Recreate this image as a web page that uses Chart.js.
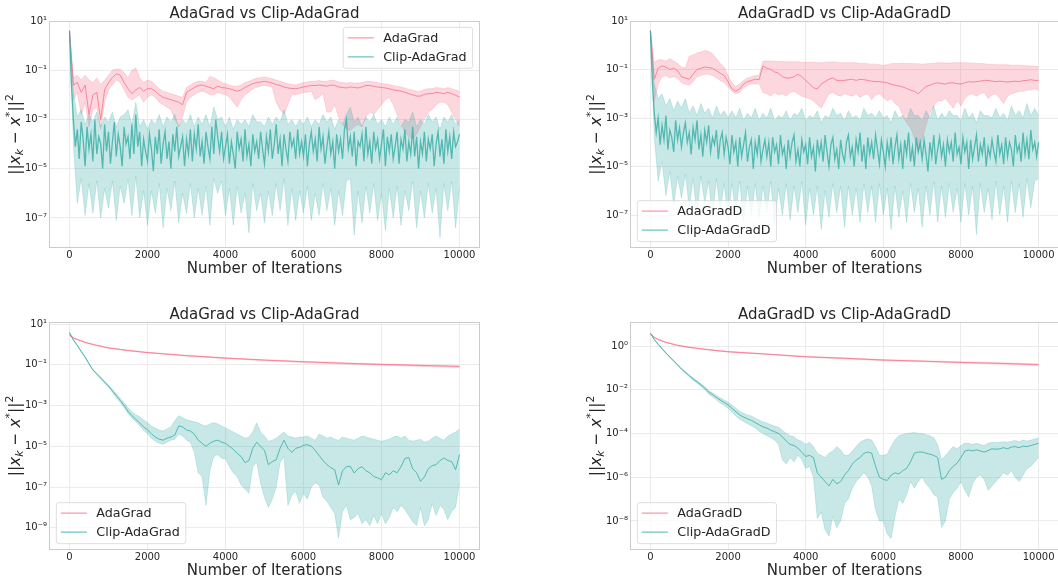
<!DOCTYPE html>
<html>
<head>
<meta charset="utf-8">
<script src="https://cdn.jsdelivr.net/npm/chart.js@4.4.1/dist/chart.umd.min.js"></script>
<style>
  body { margin: 0; background: #fff; }
  #page { position: relative; width: 1058px; height: 579px; overflow: hidden; }
  #page canvas { position: absolute; }
</style>
</head>
<body>
<div id="page">
  <canvas id="tl" width="529" height="290" style="left:0;top:0"></canvas>
  <canvas id="tr" width="529" height="290" style="left:529px;top:0"></canvas>
  <canvas id="bl" width="529" height="289" style="left:0;top:290px"></canvas>
  <canvas id="br" width="529" height="289" style="left:529px;top:290px"></canvas>
</div>
<script>
// iteration numbers, one sample every 100 iterations
const iters = [
  0, 100, 200, 300, 400, 500, 600, 700, 800, 900,
  1000, 1100, 1200, 1300, 1400, 1500, 1600, 1700, 1800, 1900,
  2000, 2100, 2200, 2300, 2400, 2500, 2600, 2700, 2800, 2900,
  3000, 3100, 3200, 3300, 3400, 3500, 3600, 3700, 3800, 3900,
  4000, 4100, 4200, 4300, 4400, 4500, 4600, 4700, 4800, 4900,
  5000, 5100, 5200, 5300, 5400, 5500, 5600, 5700, 5800, 5900,
  6000, 6100, 6200, 6300, 6400, 6500, 6600, 6700, 6800, 6900,
  7000, 7100, 7200, 7300, 7400, 7500, 7600, 7700, 7800, 7900,
  8000, 8100, 8200, 8300, 8400, 8500, 8600, 8700, 8800, 8900,
  9000, 9100, 9200, 9300, 9400, 9500, 9600, 9700, 9800, 9900, 10000
];
// finer sampling (every 50 iterations) for the very noisy Clip means of the top row
const fineIters = [
  0, 50, 100, 150, 200, 250, 300, 350, 400, 450, 500, 550, 600, 650, 700, 750, 800, 850, 900, 950,
  1000, 1050, 1100, 1150, 1200, 1250, 1300, 1350, 1400, 1450, 1500, 1550, 1600, 1650, 1700, 1750, 1800, 1850, 1900, 1950,
  2000, 2050, 2100, 2150, 2200, 2250, 2300, 2350, 2400, 2450, 2500, 2550, 2600, 2650, 2700, 2750, 2800, 2850, 2900, 2950,
  3000, 3050, 3100, 3150, 3200, 3250, 3300, 3350, 3400, 3450, 3500, 3550, 3600, 3650, 3700, 3750, 3800, 3850, 3900, 3950,
  4000, 4050, 4100, 4150, 4200, 4250, 4300, 4350, 4400, 4450, 4500, 4550, 4600, 4650, 4700, 4750, 4800, 4850, 4900, 4950,
  5000, 5050, 5100, 5150, 5200, 5250, 5300, 5350, 5400, 5450, 5500, 5550, 5600, 5650, 5700, 5750, 5800, 5850, 5900, 5950,
  6000, 6050, 6100, 6150, 6200, 6250, 6300, 6350, 6400, 6450, 6500, 6550, 6600, 6650, 6700, 6750, 6800, 6850, 6900, 6950,
  7000, 7050, 7100, 7150, 7200, 7250, 7300, 7350, 7400, 7450, 7500, 7550, 7600, 7650, 7700, 7750, 7800, 7850, 7900, 7950,
  8000, 8050, 8100, 8150, 8200, 8250, 8300, 8350, 8400, 8450, 8500, 8550, 8600, 8650, 8700, 8750, 8800, 8850, 8900, 8950,
  9000, 9050, 9100, 9150, 9200, 9250, 9300, 9350, 9400, 9450, 9500, 9550, 9600, 9650, 9700, 9750, 9800, 9850, 9900, 9950,
  10000
];
// fewer samples for the smooth AdaGrad curves of the lower row
const smoothIters = [0, 100, 200, 400, 700, 1000, 1500, 2000, 3000, 4000, 5000, 6000, 7000, 8000, 9000, 10000];

const xTicks = [0, 2000, 4000, 6000, 8000, 10000];
// y ticks as powers of ten
const topTicks = [1, -1, -3, -5, -7];
const blTicks = [1, -1, -3, -5, -7, -9];
const brTicks = [0, -2, -4, -6, -8];

// all series below are log10(||x_k - x*||^2): mean, lower and upper edge of the band

// === top left: AdaGrad vs Clip-AdaGrad ===
const tlAdaMean = [
  0.6, -1.6, -1.5, -1.9, -1.6, -2.8, -2.0, -1.9, -3.0, -1.8,
  -1.5, -1.3, -1.15, -1.2, -1.5, -1.75, -1.95, -1.8, -1.7, -1.85,
  -1.75, -1.75, -1.85, -2.0, -2.1, -2.15, -2.2, -2.25, -2.3, -2.4,
  -1.9, -1.8, -1.7, -1.62, -1.6, -1.65, -1.7, -1.75, -1.65, -1.7,
  -1.72, -1.75, -1.8, -1.85, -1.8, -1.7, -1.62, -1.55, -1.5, -1.48,
  -1.45, -1.48, -1.52, -1.58, -1.62, -1.68, -1.72, -1.74, -1.75, -1.72,
  -1.68, -1.65, -1.62, -1.62, -1.6, -1.62, -1.65, -1.6, -1.62, -1.68,
  -1.7, -1.72, -1.68, -1.7, -1.72, -1.68, -1.62, -1.62, -1.65, -1.68,
  -1.7, -1.72, -1.75, -1.8, -1.82, -1.85, -1.9, -1.95, -2.0, -2.05,
  -2.05, -1.98, -1.95, -1.95, -1.9, -1.92, -1.95, -1.9, -1.95, -2.02, -2.08
];
const tlAdaLo = [
  0.58, -2.2, -1.9, -2.8, -2.3, -3.3, -2.6, -2.5, -3.4, -2.3,
  -1.8, -1.6, -1.4, -1.5, -1.8, -2.1, -2.2, -2.1, -2.0, -2.3,
  -2.1, -2.0, -2.1, -2.3, -2.4, -2.5, -2.6, -3.0, -3.3, -2.9,
  -2.3, -2.1, -2.0, -1.9, -1.85, -1.9, -2.0, -2.0, -1.9, -1.95,
  -2.0, -2.1, -2.3, -2.5, -2.2, -2.0, -1.9, -1.75, -1.7, -1.65,
  -1.62, -1.65, -1.7, -2.3, -2.6, -2.8, -2.4, -2.0, -2.0, -1.95,
  -1.9, -1.9, -1.85, -2.2, -2.1, -1.95, -2.7, -2.7, -2.4, -2.9,
  -3.2, -3.4, -3.45, -3.3, -3.2, -3.3, -2.9, -2.7, -2.8, -2.6,
  -2.4, -2.2, -2.1, -2.4, -2.8, -3.2, -3.5, -3.7, -3.8, -3.6,
  -3.3, -3.0, -2.7, -2.6, -2.4, -2.3, -2.3, -2.4, -2.7, -3.0, -3.3
];
const tlAdaHi = [
  0.62, -1.3, -1.2, -1.4, -1.2, -1.4, -1.5, -1.3, -1.6, -1.4,
  -1.2, -1.0, -0.95, -0.95, -1.1, -1.3, -1.0, -0.9, -1.3, -1.5,
  -1.4, -1.45, -1.6, -1.75, -1.85, -1.9, -1.95, -2.0, -2.05, -2.1,
  -1.7, -1.6, -1.5, -1.45, -1.45, -1.5, -1.25, -1.3, -1.4, -1.5,
  -1.55, -1.6, -1.65, -1.65, -1.6, -1.5, -1.45, -1.38, -1.32, -1.3,
  -1.28, -1.3, -1.35, -1.4, -1.45, -1.5, -1.55, -1.58, -1.6, -1.55,
  -1.5, -1.48, -1.45, -1.45, -1.42, -1.45, -1.45, -1.4, -1.42, -1.48,
  -1.5, -1.52, -1.5, -1.52, -1.52, -1.5, -1.45, -1.45, -1.48, -1.5,
  -1.55, -1.55, -1.58, -1.62, -1.65, -1.68, -1.72, -1.78, -1.8, -1.85,
  -1.85, -1.78, -1.75, -1.75, -1.7, -1.72, -1.75, -1.7, -1.75, -1.8, -1.85
];
// sampled on fineIters
const tlClipMean = [
  0.6, -1.6, -3.0, -4.1, -3.4, -4.6, -3.1, -3.8, -4.9, -3.3, -4.2, -3.6, -4.7, -3.0, -4.4, -3.7, -4.0, -5.0, -3.2, -4.3,
  -3.5, -4.8, -3.9, -3.1, -4.5, -3.6, -4.1, -4.9, -3.3, -4.0, -3.7, -4.6, -3.2, -4.4, -2.8, -4.1, -3.5, -4.9, -3.8, -4.3,
  -4.7, -3.6, -4.2, -5.1, -3.7, -4.4, -3.4, -4.8, -4.0, -3.5, -4.6, -3.9, -5.0, -3.6, -4.3, -3.3, -4.5, -4.1, -3.7, -4.9,
  -3.8, -4.4, -3.4, -4.7, -3.6, -4.2, -3.2, -4.5, -3.9, -4.8, -3.5, -4.1, -4.6, -3.3, -4.4, -3.0, -3.7, -4.3, -3.5, -4.6,
  -4.1, -3.6, -4.8, -3.9, -4.4, -5.0, -3.5, -4.2, -3.8, -4.7, -3.4, -4.5, -4.0, -4.9, -3.6, -4.3, -3.9, -4.6, -3.5, -4.2,
  -4.8, -3.7, -4.3, -3.4, -4.6, -4.0, -3.2, -4.4, -3.8, -4.9, -3.6, -4.2, -4.7, -3.5, -4.1, -3.8, -4.6, -3.4, -4.4, -3.9,
  -4.5, -3.6, -4.9, -4.0, -3.5, -4.3, -3.8, -4.7, -3.3, -4.2, -3.7, -4.8, -4.1, -3.5, -4.4, -3.9, -5.0, -3.6, -4.3, -3.8,
  -4.6, -3.4, -3.0, -4.2, -3.7, -4.5, -3.5, -4.9, -3.9, -4.1, -3.6, -4.7, -3.3, -4.4, -3.9, -4.8, -3.5, -4.2, -3.8, -4.6,
  -4.0, -3.4, -4.9, -3.7, -4.3, -3.6, -4.6, -4.1, -3.5, -4.8, -3.8, -4.2, -3.4, -4.7, -3.9, -4.4, -3.3, -4.5, -3.7, -5.0,
  -3.9, -4.4, -3.5, -4.7, -3.8, -4.2, -3.6, -4.9, -4.0, -3.5, -4.5, -3.8, -4.8, -3.4, -4.3, -3.7, -4.6, -3.5, -4.1, -3.9,
  -3.6
];
const tlClipLo = [
  0.58, -4.0, -6.4, -5.4, -6.9, -5.6, -6.8, -5.5, -7.0, -5.8,
  -6.6, -5.5, -7.1, -5.7, -6.4, -5.4, -6.9, -5.3, -7.0, -5.9,
  -7.3, -5.9, -6.8, -5.6, -7.4, -5.8, -6.7, -5.5, -7.2, -6.0,
  -6.8, -5.6, -7.0, -5.8, -6.9, -5.7, -7.3, -5.4, -6.0, -5.5,
  -6.9, -5.8, -7.3, -5.7, -6.8, -6.0, -7.6, -5.6, -6.7, -6.0,
  -7.2, -5.9, -6.9, -5.6, -6.7, -5.4, -7.3, -5.8, -7.1, -5.9,
  -6.8, -5.7, -7.1, -6.0, -6.9, -5.6, -6.7, -5.8, -7.3, -5.9,
  -6.9, -5.5, -5.4, -7.7, -5.9, -7.2, -5.7, -6.8, -5.6, -7.1,
  -6.0, -7.5, -5.8, -7.0, -5.7, -7.3, -5.9, -6.7, -5.5, -7.4,
  -5.9, -7.0, -5.6, -6.8, -5.8, -7.8, -5.6, -6.7, -5.5, -7.4, -5.8
];
const tlClipHi = [
  0.62, -1.9, -2.9, -2.6, -3.2, -2.8, -3.1, -2.7, -3.3, -2.9,
  -3.1, -2.7, -3.3, -2.9, -2.8, -2.6, -3.2, -2.3, -3.3, -3.0,
  -3.4, -3.0, -3.2, -2.8, -3.3, -2.9, -3.1, -2.8, -3.3, -3.0,
  -3.2, -2.8, -3.3, -2.9, -3.2, -2.8, -3.3, -2.5, -3.0, -2.9,
  -3.3, -2.9, -3.4, -3.0, -3.2, -3.0, -3.3, -2.8, -3.1, -3.1,
  -3.3, -2.9, -3.2, -2.9, -3.1, -2.6, -3.2, -3.0, -3.3, -3.0,
  -3.2, -2.9, -3.3, -3.0, -3.2, -2.8, -3.1, -2.9, -3.4, -3.0,
  -3.2, -2.8, -2.5, -3.1, -2.9, -3.3, -2.9, -3.1, -2.8, -3.2,
  -3.0, -3.3, -2.9, -3.2, -2.9, -3.3, -3.0, -3.1, -2.7, -3.3,
  -3.0, -3.2, -2.8, -3.1, -2.9, -3.4, -2.9, -3.1, -2.8, -3.2, -3.0
];

// === top right: AdaGradD vs Clip-AdaGradD ===
const trAdaMean = [
  0.6, -1.4, -0.95, -0.85, -0.9, -1.0, -0.95, -1.05, -1.3, -1.35,
  -1.4, -1.2, -1.0, -0.95, -0.9, -0.92, -0.95, -1.05, -1.15, -1.25,
  -1.5, -1.8, -1.9, -1.8, -1.6, -1.5, -1.45, -1.4, -1.42, -0.85,
  -0.95, -1.0, -1.1, -1.15, -1.3, -1.35, -1.35, -1.3, -1.2, -1.3,
  -1.45, -1.6, -1.75, -1.8, -1.6, -1.5, -1.4, -1.35, -1.45, -1.45,
  -1.45, -1.42, -1.4, -1.45, -1.4, -1.42, -1.45, -1.48, -1.5, -1.5,
  -1.52, -1.55, -1.6, -1.65, -1.68, -1.72, -1.78, -1.85, -1.9, -2.0,
  -1.85, -1.7, -1.65, -1.58, -1.55, -1.58, -1.6, -1.55, -1.55, -1.58,
  -1.6, -1.55, -1.5, -1.52, -1.5, -1.48, -1.45, -1.45, -1.48, -1.5,
  -1.48, -1.5, -1.52, -1.5, -1.48, -1.5, -1.46, -1.45, -1.42, -1.45, -1.45
];
const trAdaLo = [
  0.58, -2.3, -1.6, -1.3, -1.25, -1.35, -1.3, -1.35, -1.55, -1.6,
  -1.65, -1.5, -1.3, -1.25, -1.2, -1.2, -1.25, -1.35, -1.45, -1.55,
  -1.7, -1.9, -2.0, -1.95, -1.75, -1.65, -1.6, -1.6, -1.6, -1.95,
  -2.0, -2.1, -1.95, -2.05, -2.0, -2.1, -1.95, -1.9, -2.0, -2.1,
  -2.15, -2.2, -2.3, -2.45, -2.6, -2.3, -2.0, -1.95, -2.05, -2.1,
  -2.0, -2.05, -2.1, -2.0, -2.15, -2.05, -2.0, -2.25, -2.05, -2.0,
  -2.15, -2.3, -2.2, -2.4, -2.5, -2.9, -3.2, -3.4, -3.8, -4.4,
  -3.9, -3.3, -2.8, -2.5, -2.3, -2.3, -2.2, -2.4, -2.6, -2.3,
  -2.5, -2.2, -2.05, -2.0, -2.1, -2.0, -1.95, -2.2, -2.05, -2.0,
  -2.2, -2.4, -2.1, -2.0, -1.95, -1.9, -1.9, -1.85, -1.85, -1.8, -1.85
];
const trAdaHi = [
  0.62, -0.7, -0.6, -0.6, -0.65, -0.55, -0.65, -0.75, -0.9, -0.95,
  -0.45, -0.4, -0.32, -0.28, -0.22, -0.25, -0.35, -0.55, -0.75, -0.9,
  -1.25, -1.55, -1.7, -1.6, -1.45, -1.35, -1.3, -1.25, -1.25, -0.65,
  -0.65, -0.65, -0.66, -0.67, -0.67, -0.68, -0.68, -0.68, -0.68, -0.7,
  -0.7, -0.7, -0.7, -0.72, -0.72, -0.7, -0.7, -0.68, -0.7, -0.72,
  -0.72, -0.72, -0.72, -0.72, -0.75, -0.75, -0.76, -0.78, -0.78, -0.8,
  -0.82, -0.8, -0.76, -0.75, -0.75, -0.74, -0.75, -0.75, -0.76, -0.76,
  -0.78, -0.76, -0.75, -0.74, -0.72, -0.72, -0.73, -0.73, -0.72, -0.72,
  -0.72, -0.72, -0.73, -0.74, -0.75, -0.75, -0.76, -0.78, -0.78, -0.8,
  -0.8, -0.8, -0.8, -0.82, -0.82, -0.82, -0.84, -0.85, -0.86, -0.87, -0.88
];
// sampled on fineIters
const trClipMean = [
  0.6, -1.5, -2.8, -3.6, -3.0, -4.1, -3.3, -3.9, -2.9, -4.3, -3.5, -3.8, -4.4, -3.1, -3.9, -3.4, -4.2, -3.6, -3.2, -4.0,
  -3.6, -4.5, -3.4, -3.9, -3.1, -4.3, -3.7, -4.6, -3.5, -4.0, -3.3, -4.4, -3.8, -4.1, -3.5, -4.7, -3.9, -3.6, -4.5, -3.8,
  -4.2, -4.9, -3.7, -4.4, -4.0, -5.0, -3.8, -4.6, -4.1, -3.6, -4.8, -4.2, -3.9, -5.1, -4.0, -4.5, -3.7, -4.8, -4.3, -3.9,
  -4.6, -4.0, -5.0, -3.8, -4.4, -4.1, -4.9, -3.7, -4.5, -4.2, -5.1, -3.9, -4.6, -4.0, -3.7, -4.8, -4.3, -5.0, -3.9, -4.4,
  -4.1, -4.9, -3.8, -4.6, -4.2, -5.2, -3.9, -4.5, -4.0, -4.8, -3.7, -4.4, -5.0, -4.1, -3.8, -4.7, -4.3, -5.1, -3.9, -4.5,
  -4.8, -4.0, -3.7, -4.6, -4.2, -5.0, -3.9, -4.4, -3.6, -4.8, -4.1, -5.1, -3.8, -4.5, -4.0, -4.7, -3.7, -4.3, -4.9, -3.9,
  -4.4, -5.0, -4.0, -4.6, -3.8, -4.9, -4.2, -3.7, -4.7, -4.1, -5.1, -3.9, -4.5, -3.6, -4.8, -4.2, -5.0, -3.8, -4.4, -4.0,
  -4.7, -3.9, -4.5, -5.2, -4.0, -4.6, -3.7, -4.9, -4.3, -3.8, -4.6, -4.1, -5.0, -3.9, -4.4, -4.0, -4.8, -3.6, -4.5, -4.2,
  -4.9, -3.8, -4.4, -4.0, -5.1, -3.9, -4.7, -4.2, -3.7, -4.8, -4.1, -4.5, -3.8, -5.0, -4.2, -4.6, -3.9, -4.4, -4.8, -3.7,
  -4.5, -4.1, -4.9, -3.8, -4.6, -4.0, -4.3, -5.0, -3.7, -4.4, -4.1, -4.8, -3.6, -4.5, -3.9, -4.7, -3.5, -4.3, -4.0, -4.6,
  -4.0
];
const trClipLo = [
  0.58, -3.8, -5.6, -4.8, -6.2, -5.2, -6.6, -5.4, -6.3, -5.3,
  -6.7, -5.5, -7.0, -5.4, -6.5, -5.6, -7.1, -5.5, -6.8, -5.7,
  -7.2, -5.7, -6.9, -5.6, -7.3, -5.8, -7.0, -5.7, -7.1, -5.8,
  -6.9, -5.6, -7.4, -5.9, -7.0, -5.7, -7.2, -5.8, -6.9, -5.6,
  -7.4, -5.9, -7.0, -5.8, -7.6, -6.0, -7.1, -5.7, -6.9, -5.8,
  -7.5, -5.8, -7.0, -5.9, -7.3, -5.7, -6.9, -5.8, -7.3, -5.7,
  -7.0, -5.9, -7.6, -5.8, -7.1, -6.0, -7.3, -5.7, -6.9, -5.9,
  -7.5, -5.8, -7.0, -5.6, -7.3, -5.8, -7.1, -5.7, -6.9, -5.9,
  -7.3, -5.7, -7.0, -5.8, -7.8, -5.7, -6.9, -5.9, -7.2, -5.6,
  -7.0, -5.8, -7.3, -5.6, -6.9, -5.7, -7.1, -5.5, -6.7, -5.6, -5.5
];
const trClipHi = [
  0.62, -1.6, -2.2, -2.0, -2.5, -2.2, -2.7, -2.3, -2.6, -2.2,
  -2.8, -2.5, -2.9, -2.4, -2.8, -2.6, -3.0, -2.5, -2.9, -2.7,
  -3.0, -2.7, -3.0, -2.6, -3.1, -2.8, -3.0, -2.6, -3.1, -2.8,
  -3.0, -2.6, -3.1, -2.9, -3.0, -2.7, -3.1, -2.8, -2.9, -2.6,
  -3.1, -2.9, -3.0, -2.7, -3.2, -2.9, -3.0, -2.6, -2.9, -2.8,
  -3.1, -2.7, -3.0, -2.9, -3.1, -2.6, -2.9, -2.8, -3.0, -2.7,
  -3.0, -2.9, -3.2, -2.7, -3.0, -2.9, -3.1, -2.6, -2.9, -2.9,
  -3.1, -2.7, -3.0, -2.5, -3.1, -2.8, -3.0, -2.7, -2.9, -2.9,
  -3.1, -2.6, -3.0, -2.8, -3.2, -2.7, -2.9, -2.9, -3.0, -2.6,
  -3.0, -2.8, -3.1, -2.5, -2.9, -2.7, -3.0, -2.4, -2.9, -2.6, -2.9
];

// === bottom left: AdaGrad vs Clip-AdaGrad ===
const blAdaMean = [0.45, 0.32, 0.24, 0.1, -0.05, -0.17, -0.3, -0.4, -0.55, -0.67, -0.77, -0.85, -0.92, -0.98, -1.03, -1.08];
const blAdaLo = [0.43, 0.3, 0.22, 0.08, -0.07, -0.19, -0.32, -0.42, -0.58, -0.7, -0.8, -0.89, -0.96, -1.02, -1.08, -1.13];
const blAdaHi = [0.47, 0.34, 0.26, 0.12, -0.03, -0.15, -0.28, -0.38, -0.53, -0.65, -0.75, -0.83, -0.9, -0.96, -1.01, -1.05];
const blClipMean = [
  0.58, 0.22, -0.05, -0.35, -0.62, -0.95, -1.25, -1.45, -1.65, -1.85,
  -2.05, -2.28, -2.52, -2.75, -3.0, -3.28, -3.5, -3.68, -3.85, -4.05,
  -4.2, -4.38, -4.55, -4.65, -4.7, -4.6, -4.55, -4.45, -4.0, -4.05,
  -4.2, -4.25, -4.4, -4.7, -4.85, -5.0, -4.85, -4.75, -4.7, -4.8,
  -4.85, -5.0, -5.15, -5.35, -5.5, -5.8, -5.7, -5.1, -4.8, -5.0,
  -5.2, -5.9, -5.75, -5.66, -5.1, -4.7, -5.1, -5.3, -5.1, -5.05,
  -4.95, -4.92, -5.0, -5.2, -5.45, -5.7, -5.9, -6.05, -6.15, -6.9,
  -6.2, -6.0, -5.98, -6.31, -6.1, -6.0, -6.2, -6.3, -6.48, -6.55,
  -6.64, -6.3, -6.4, -6.2, -6.3, -6.0, -5.6, -5.55, -6.1, -6.3,
  -6.72, -6.5, -6.1, -5.95, -5.9, -5.7, -5.57, -5.7, -5.75, -6.15, -5.41
];
const blClipLo = [
  0.56, 0.2, -0.07, -0.37, -0.64, -0.97, -1.28, -1.48, -1.7, -1.9,
  -2.1, -2.35, -2.6, -2.85, -3.1, -3.4, -3.6, -3.8, -4.0, -4.2,
  -4.4, -4.6, -4.75, -4.85, -4.9, -4.8, -4.7, -4.65, -4.4, -4.5,
  -4.7, -4.8, -5.3, -6.3, -6.5, -7.9, -6.2, -5.5, -5.4, -5.6,
  -5.6, -6.0, -6.3, -6.5, -6.9, -7.1, -7.3, -6.0, -5.8, -6.8,
  -7.5, -8.0, -7.6, -7.0, -5.8, -5.5, -7.9, -7.4, -7.2, -7.8,
  -7.3, -7.6, -7.0, -6.8, -6.9, -7.5, -7.7, -8.0, -8.3, -9.5,
  -8.2, -7.9, -8.6, -8.5, -8.3, -8.8, -8.6, -8.9, -8.4, -8.8,
  -8.3, -8.8, -8.5, -8.0, -8.2, -7.9, -8.1, -8.4, -8.7, -8.9,
  -8.0, -8.9, -8.6, -7.8, -8.4, -7.9, -8.1, -8.6, -8.2, -8.0, -6.8
];
const blClipHi = [
  0.6, 0.24, -0.03, -0.33, -0.6, -0.92, -1.22, -1.42, -1.6, -1.8,
  -1.99, -2.2, -2.42, -2.64, -2.85, -3.1, -3.3, -3.45, -3.55, -3.7,
  -3.85, -4.0, -4.1, -4.2, -4.25, -4.15, -4.05, -3.75, -3.5, -3.6,
  -3.7, -3.75, -3.8, -3.85, -3.95, -4.0, -3.9, -3.85, -3.9, -4.0,
  -4.1, -4.2, -4.3, -4.4, -4.5, -4.6, -4.55, -4.3, -3.85, -4.3,
  -4.5, -4.75, -4.7, -4.6, -4.45, -4.3, -4.5, -4.55, -4.6, -4.55,
  -4.55, -4.5, -4.6, -4.7, -4.4, -4.5, -4.6, -4.55, -4.65, -4.7,
  -4.55, -4.6, -4.65, -4.7, -4.6, -4.5, -4.55, -4.6, -4.65, -4.7,
  -4.75, -4.7, -4.65, -4.55, -4.5, -4.6, -4.5, -4.7, -4.75, -4.7,
  -4.65, -4.8, -4.75, -4.6, -4.5, -4.6, -4.7, -4.5, -4.4, -4.3, -4.15
];

// === bottom right: AdaGradD vs Clip-AdaGradD ===
const brAdaMean = [0.58, 0.4, 0.3, 0.17, 0.03, -0.06, -0.17, -0.26, -0.37, -0.49, -0.56, -0.64, -0.69, -0.75, -0.79, -0.85];
const brAdaLo = [0.56, 0.38, 0.28, 0.15, 0.01, -0.08, -0.19, -0.28, -0.39, -0.51, -0.59, -0.67, -0.72, -0.78, -0.83, -0.89];
const brAdaHi = [0.6, 0.42, 0.32, 0.19, 0.05, -0.04, -0.15, -0.24, -0.35, -0.47, -0.54, -0.62, -0.67, -0.72, -0.76, -0.82];
const brClipMean = [
  0.58, 0.3, 0.08, -0.12, -0.32, -0.5, -0.68, -0.86, -1.05, -1.2,
  -1.35, -1.5, -1.63, -1.77, -1.92, -2.1, -2.22, -2.35, -2.47, -2.58,
  -2.69, -2.85, -3.0, -3.15, -3.25, -3.33, -3.4, -3.5, -3.6, -3.7,
  -3.75, -3.85, -3.92, -4.0, -4.15, -4.35, -4.5, -4.55, -4.67, -4.85,
  -5.05, -5.0, -5.1, -5.8, -6.0, -6.2, -6.4, -6.1, -6.3, -6.2,
  -5.9, -5.7, -5.4, -5.22, -5.1, -4.9, -4.85, -4.9, -5.5, -6.0,
  -6.1, -6.15, -5.9, -5.8, -5.85, -5.7, -5.6, -5.3, -4.9, -4.85,
  -4.85, -4.9, -4.95, -5.0, -5.1, -6.1, -6.0, -5.7, -5.5, -5.36,
  -5.1, -4.8, -4.76, -4.8, -4.75, -4.8, -4.85, -4.78, -4.7, -4.72,
  -4.7, -4.65, -4.7, -4.62, -4.6, -4.65, -4.58, -4.6, -4.55, -4.5, -4.45
];
const brClipLo = [
  0.56, 0.28, 0.06, -0.14, -0.34, -0.53, -0.71, -0.89, -1.08, -1.24,
  -1.4, -1.56, -1.7, -1.84, -2.0, -2.2, -2.32, -2.46, -2.6, -2.72,
  -2.84, -3.02, -3.2, -3.35, -3.45, -3.55, -3.65, -3.75, -3.9, -4.0,
  -4.1, -4.2, -4.3, -4.5, -5.2, -5.4, -5.1, -5.3, -5.0, -5.2,
  -5.6, -5.5, -6.0, -7.9, -7.6, -8.4, -8.7, -7.8, -8.3, -8.0,
  -7.2, -7.0, -6.5, -6.2, -6.0, -5.8, -6.0, -6.4, -7.5, -8.0,
  -8.0, -8.6, -8.8, -7.8, -7.0, -7.2, -6.8, -6.2, -6.5, -6.2,
  -6.0, -6.3, -6.5, -6.8, -6.9, -8.3, -8.0, -7.0, -6.7, -6.5,
  -6.2, -6.6, -6.9, -6.3, -6.0, -5.9, -6.1, -6.6, -6.4, -6.2,
  -6.0, -5.8, -5.9, -5.7, -6.0, -6.2, -5.9, -5.6, -5.5, -5.3, -5.1
];
const brClipHi = [
  0.6, 0.32, 0.1, -0.1, -0.3, -0.48, -0.66, -0.84, -1.02, -1.17,
  -1.32, -1.46, -1.59, -1.72, -1.86, -2.03, -2.14, -2.26, -2.37, -2.47,
  -2.57, -2.7, -2.84, -2.98, -3.08, -3.15, -3.2, -3.3, -3.38, -3.48,
  -3.52, -3.6, -3.66, -3.72, -3.85, -4.0, -4.1, -4.15, -4.3, -4.35,
  -4.5, -4.4, -4.6, -4.9, -5.0, -5.1, -4.9, -4.8, -4.6, -4.75,
  -5.0, -5.0, -4.8, -4.6, -4.4, -4.3, -4.25, -4.3, -4.6, -5.0,
  -5.0, -4.95, -4.6, -4.3, -4.1, -4.05, -4.0, -3.98, -3.95, -4.0,
  -4.0, -4.05, -4.1, -4.2, -4.5, -5.2, -5.0, -4.8, -4.6, -4.7,
  -4.55, -4.45, -4.45, -4.5, -4.45, -4.5, -4.55, -4.45, -4.4, -4.42,
  -4.4, -4.38, -4.4, -4.35, -4.32, -4.38, -4.3, -4.35, -4.3, -4.25, -4.2
];

const PINK = [247, 113, 137];
const TEAL = [54, 173, 164];
const TEXT = '#262626';
const FONT = '"DejaVu Sans"';
const Y_W = 40, X_H = 25;

Chart.defaults.font.family = 'DejaVu Sans';
Chart.defaults.color = TEXT;

function rgba(c, a) { return 'rgba(' + c[0] + ',' + c[1] + ',' + c[2] + ',' + a + ')'; }
function pts(xs, logs) { return logs.map((v, i) => ({ x: xs[i], y: Math.pow(10, v) })); }

const SUP = { '-': '\u207b', '0': '\u2070', '1': '\u00b9', '2': '\u00b2', '3': '\u00b3', '4': '\u2074',
  '5': '\u2075', '6': '\u2076', '7': '\u2077', '8': '\u2078', '9': '\u2079' };
function powLabel(v) {
  return '10' + String(Math.round(Math.log10(v))).split('').map(c => SUP[c]).join('');
}

// lower edge, upper edge (filled down to the lower one), then the mean line
// s = { bandX, lo, hi, meanX, mean }
function band(s, col, order, lineW) {
  const edge = { pointRadius: 0, borderWidth: 0.7, borderColor: rgba(col, 0.3) };
  return [
    Object.assign({ data: pts(s.bandX, s.lo), fill: false, order: order + 2 }, edge),
    Object.assign({ data: pts(s.bandX, s.hi), fill: '-1', backgroundColor: rgba(col, 0.28), order: order + 1 }, edge),
    { data: pts(s.meanX, s.mean), fill: false, pointRadius: 0, borderWidth: lineW, borderColor: rgba(col, 0.8), order: order }
  ];
}

function roundRect(ctx, x, y, w, h, r) {
  ctx.beginPath();
  ctx.moveTo(x + r, y);
  ctx.arcTo(x + w, y, x + w, y + h, r);
  ctx.arcTo(x + w, y + h, x, y + h, r);
  ctx.arcTo(x, y + h, x, y, r);
  ctx.arcTo(x, y, x + w, y, r);
  ctx.closePath();
}

function drawYLabel(ctx, x, y) {
  const f = 15.5;
  const parts = [
    { t: '||', s: 1, dy: 0, it: false },
    { t: 'x', s: 1, dy: 0, it: true },
    { t: 'k', s: 0.7, dy: 0.22, it: true },
    { t: ' \u2212 ', s: 1, dy: 0, it: false },
    { t: 'x', s: 1, dy: 0, it: true },
    { t: '*', s: 0.7, dy: -0.45, it: false },
    { t: '||', s: 1, dy: 0, it: false },
    { t: '2', s: 0.7, dy: -0.45, it: false }
  ];
  const font = p => (p.it ? 'italic ' : '') + (f * p.s) + 'px ' + FONT;
  let total = 0;
  parts.forEach(p => { ctx.font = font(p); p.w = ctx.measureText(p.t).width; total += p.w; });
  ctx.save();
  ctx.translate(x, y);
  ctx.rotate(-Math.PI / 2);
  ctx.fillStyle = TEXT;
  ctx.textBaseline = 'alphabetic';
  ctx.textAlign = 'left';
  let cx = -total / 2;
  parts.forEach(p => {
    ctx.font = font(p);
    ctx.fillText(p.t, cx, p.dy * f);
    cx += p.w;
  });
  ctx.restore();
}

function drawLegend(ctx, a, corner, items) {
  ctx.font = '12.7px ' + FONT;
  const tw = Math.max(...items.map(it => ctx.measureText(it.label).width));
  const w = 40 + tw + 6, h = 41, pad = 6.35;
  const x = corner === 'upper right' ? a.right - pad - w : a.left + pad;
  const y = corner === 'upper right' ? a.top + pad : a.bottom - pad - h;
  roundRect(ctx, x, y, w, h, 2.5);
  ctx.fillStyle = 'rgba(255,255,255,0.8)';
  ctx.fill();
  ctx.strokeStyle = 'rgba(204,204,204,0.8)';
  ctx.lineWidth = 0.8;
  ctx.stroke();
  items.forEach((it, i) => {
    const cy = y + 10.5 + i * 19;
    ctx.strokeStyle = it.color;
    ctx.lineWidth = 1.5;
    ctx.beginPath();
    ctx.moveTo(x + 4.5, cy);
    ctx.lineTo(x + 30.5, cy);
    ctx.stroke();
    ctx.fillStyle = TEXT;
    ctx.textBaseline = 'middle';
    ctx.textAlign = 'left';
    ctx.fillText(it.label, x + 40, cy + 0.5);
  });
}

// === frame, titles, axis labels and legend ===
const deco = {
  id: 'deco',
  afterDraw(chart, args, opts) {
    const ctx = chart.ctx, a = chart.chartArea;
    ctx.save();
    ctx.strokeStyle = '#cccccc';
    ctx.lineWidth = 1;
    ctx.strokeRect(Math.round(a.left) - 0.5, Math.round(a.top) + 0.5,
      Math.round(a.right - a.left) + 1, Math.round(a.bottom - a.top) - 1);

    const cx = (a.left + a.right) / 2;
    ctx.fillStyle = TEXT;
    ctx.textAlign = 'center';
    ctx.textBaseline = 'alphabetic';
    ctx.font = '15px ' + FONT;
    ctx.fillText(opts.title, cx, a.top - 3.2);
    ctx.fillText('Number of Iterations', cx, a.bottom + 25);
    drawYLabel(ctx, a.left - 30.5, (a.top + a.bottom) / 2);
    drawLegend(ctx, a, opts.legend, [
      { label: opts.names[0], color: rgba(PINK, 0.6) },
      { label: opts.names[1], color: rgba(TEAL, 0.6) }
    ]);
    ctx.restore();
  }
};

const panels = [
  { id: 'tl', title: 'AdaGrad vs Clip-AdaGrad', names: ['AdaGrad', 'Clip-AdaGrad'],
    ada: { bandX: iters, lo: tlAdaLo, hi: tlAdaHi, meanX: iters, mean: tlAdaMean },
    clip: { bandX: iters, lo: tlClipLo, hi: tlClipHi, meanX: fineIters, mean: tlClipMean },
    clipLine: 1.3, yRange: [-8.22, 1.0], yTicks: topTicks, area: [50, 21, 479, 248], legend: 'upper right' },
  { id: 'tr', title: 'AdaGradD vs Clip-AdaGradD', names: ['AdaGradD', 'Clip-AdaGradD'],
    ada: { bandX: iters, lo: trAdaLo, hi: trAdaHi, meanX: iters, mean: trAdaMean },
    clip: { bandX: iters, lo: trClipLo, hi: trClipHi, meanX: fineIters, mean: trClipMean },
    clipLine: 1.3, yRange: [-8.36, 1.0], yTicks: topTicks, area: [102, 21, 529, 248], legend: 'lower left' },
  { id: 'bl', title: 'AdaGrad vs Clip-AdaGrad', names: ['AdaGrad', 'Clip-AdaGrad'],
    ada: { bandX: smoothIters, lo: blAdaLo, hi: blAdaHi, meanX: smoothIters, mean: blAdaMean },
    clip: { bandX: iters, lo: blClipLo, hi: blClipHi, meanX: iters, mean: blClipMean },
    clipLine: 1, yRange: [-10.09, 1.1], yTicks: blTicks, area: [50, 32, 479, 260], legend: 'lower left' },
  { id: 'br', title: 'AdaGradD vs Clip-AdaGradD', names: ['AdaGradD', 'Clip-AdaGradD'],
    ada: { bandX: smoothIters, lo: brAdaLo, hi: brAdaHi, meanX: smoothIters, mean: brAdaMean },
    clip: { bandX: iters, lo: brClipLo, hi: brClipHi, meanX: iters, mean: brClipMean },
    clipLine: 1, yRange: [-9.33, 1.1], yTicks: brTicks, area: [102, 32, 529, 260], legend: 'lower left' }
];

panels.forEach(p => {
  const canvas = document.getElementById(p.id);
  const [l, t, r, b] = p.area;
  const datasets = band(p.ada, PINK, 3, 1).concat(band(p.clip, TEAL, 0, p.clipLine));

  new Chart(canvas, {
    type: 'line',
    data: { datasets: datasets },
    options: {
      responsive: false,
      animation: false,
      devicePixelRatio: 1,
      events: [],
      layout: { padding: { left: l - Y_W, top: t, right: canvas.width - r, bottom: canvas.height - b - X_H } },
      plugins: {
        legend: { display: false },
        tooltip: { enabled: false },
        deco: { title: p.title, names: p.names, legend: p.legend }
      },
      scales: {
        x: {
          type: 'linear',
          min: -500,
          max: 10500,
          afterBuildTicks: s => { s.ticks = xTicks.map(v => ({ value: v })); },
          afterFit: s => { s.height = X_H; },
          ticks: { autoSkip: false, maxRotation: 0, padding: 1, color: TEXT, font: { size: 10 }, callback: v => String(v) },
          grid: { color: '#ebebeb', lineWidth: 1, drawTicks: false },
          border: { display: false }
        },
        y: {
          type: 'logarithmic',
          bounds: 'data',
          min: Math.pow(10, p.yRange[0]),
          max: Math.pow(10, p.yRange[1]),
          afterBuildTicks: s => { s.ticks = p.yTicks.map(e => ({ value: Math.pow(10, e) })); },
          afterFit: s => { s.width = Y_W; },
          ticks: { autoSkip: false, padding: 3, color: TEXT, font: { size: 10 }, callback: v => powLabel(v) },
          grid: { color: '#ebebeb', lineWidth: 1, drawTicks: false },
          border: { display: false }
        }
      }
    },
    plugins: [deco]
  });
});
</script>
</body>
</html>
